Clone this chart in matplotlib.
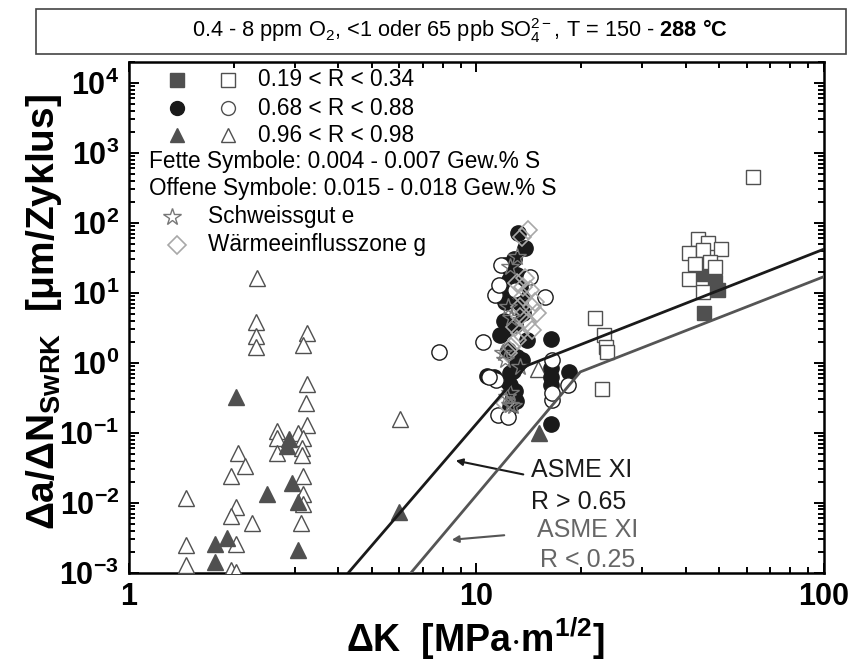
import matplotlib
matplotlib.use("Agg")
import matplotlib.pyplot as plt
from matplotlib.patches import Rectangle

plt.rcParams['font.family'] = ['Liberation Sans', 'DejaVu Sans']
plt.rcParams['mathtext.fontset'] = 'custom'
plt.rcParams['mathtext.rm'] = 'Liberation Sans'
plt.rcParams['mathtext.it'] = 'Liberation Sans:italic'
plt.rcParams['mathtext.bf'] = 'Liberation Sans:bold'

# Data (Delta K in MPa m^1/2, da/dN in um/cycle)
tri_open_K = [2.33, 2.32, 2.32, 2.32, 3.26, 3.17, 3.25, 3.24, 3.26, 2.66, 2.66, 3.07,
              3.17, 3.14, 3.14, 2.66, 2.06, 2.15, 1.96, 3.16, 3.16, 3.17, 2.03, 1.97,
              2.26, 3.13, 1.46, 1.46, 1.46, 2.03, 1.97, 2.03, 6.03, 15.0]
tri_open_y = [16.1, 3.85, 2.40, 1.66, 2.68, 1.79, 0.497, 0.263, 0.129, 0.106, 0.083, 0.098,
              0.083, 0.060, 0.048, 0.051, 0.051, 0.034, 0.024, 0.024, 0.0133, 0.0096, 0.0088, 0.0065,
              0.0052, 0.0052, 0.0116, 0.0025, 0.0013, 0.0026, 0.0011, 0.00102, 0.155, 0.805]
tri_fill_K = [2.03, 2.89, 2.84, 2.94, 2.49, 3.07, 1.77, 1.91, 1.77, 3.07, 6.0, 15.1]
tri_fill_y = [0.327, 0.081, 0.065, 0.019, 0.0133, 0.0103, 0.0026, 0.0031, 0.00144, 0.0021, 0.0074, 0.098]

circ_fill_K = [13.2, 13.8, 12.1, 13.05, 11.9, 12.1, 13.35, 13.6, 11.7, 13.95, 16.4, 10.7,
               12.5, 13.5, 12.5, 12.76, 12.5, 16.4, 16.4, 16.4, 18.5, 16.4,
               12.8, 12.4, 13.3, 12.9, 12.3, 13.0, 12.2, 12.9, 11.2, 12.0, 13.1,
               12.6, 13.4, 12.2, 12.7, 13.0]
circ_fill_y = [70.6, 43, 24.9, 17.9, 9.8, 7.4, 7.1, 5.1, 2.5, 2.1, 2.18, 0.646,
               0.706, 1.09, 0.48, 0.327, 0.23, 0.83, 0.63, 0.48, 0.73, 0.133,
               30, 15, 12, 3.5, 1.5, 0.9, 0.55, 0.4, 0.62, 4.0, 1.2,
               20, 9.0, 3.0, 0.75, 0.28]
circ_open_K = [11.8, 14.25, 11.3, 15.7, 10.46, 7.8, 11.4, 16.5, 16.5, 18.3, 11.55, 12.35, 16.5, 10.85,
               12.9, 11.6]
circ_open_y = [24.9, 16.9, 9.3, 8.8, 2.0, 1.41, 0.567, 1.09, 0.293, 0.48, 0.179, 0.17, 0.37, 0.62,
               11.0, 13.0]

diam_K = [14.1, 13.5, 13.8, 14.25, 14.7, 14.4, 14.9, 13.35, 13.95, 12.9, 14.4, 13.35,
          13.05, 12.6, 12.35, 13.6, 13.05, 13.6, 13.35, 12.1]
diam_y = [78.7, 63, 16.1, 10.9, 7.4, 6.3, 5.1, 4.5, 3.66, 3.27, 2.93, 2.63,
          2.1, 1.69, 1.36, 12.2, 13.6, 8.8, 6.3, 0.263]
star_K = [13.05, 12.5, 12.35, 12.6, 12.1, 13.35, 12.2, 12.76, 11.9, 12.5, 12.5]
star_y = [32.7, 23.5, 6.3, 4.3, 1.09, 0.877, 0.327, 0.237, 1.36, 0.37, 0.25]

sq_open_K = [62.6, 43.5, 46.5, 41, 45, 50.4, 42.4, 47, 48.6, 41, 45, 21.9, 23.3, 23.6, 23.8, 22.9]
sq_open_y = [454, 57.9, 51.8, 37.3, 40.7, 42, 25.5, 27.7, 23.5, 15.5, 10.3, 4.4, 2.49, 1.69, 1.44, 0.417]
sq_fill_K = [44.2, 48.6, 49.6, 45.2]
sq_fill_y = [18.5, 14.4, 11, 5.2]

# ASME XI reference curves (corner points)
asme_hi_K = [4.28, 13.9, 100]
asme_hi_y = [1e-3, 0.9, 42]
asme_lo_K = [6.48, 19.9, 100]
asme_lo_y = [1e-3, 0.74, 17]

fig = plt.figure(figsize=(8.54, 6.68), dpi=100)
ax = fig.add_axes([129 / 854, 1 - 572.7 / 668, 695 / 854, 511 / 668])
ax.set_xscale('log')
ax.set_yscale('log')
ax.set_xlim(1, 100)
ax.set_ylim(1e-3, 2e4)

dk = '#1a1a1a'
dg = '#505050'
lg = '#a8a8a8'

ax.plot(tri_open_K, tri_open_y, '^', ms=11, mfc='white', mec=dg, mew=1.0, ls='none', zorder=3)
ax.plot(tri_fill_K, tri_fill_y, '^', ms=11, mfc=dg, mec=dg, ls='none', zorder=3)
ax.plot(sq_fill_K, sq_fill_y, 's', ms=10, mfc=dg, mec=dg, ls='none', zorder=3)
ax.plot(sq_open_K, sq_open_y, 's', ms=10, mfc='white', mec=dg, mew=1.0, ls='none', zorder=3)
ax.plot(circ_fill_K, circ_fill_y, 'o', ms=11, mfc=dk, mec=dk, ls='none', zorder=3)
ax.plot(circ_open_K, circ_open_y, 'o', ms=11, mfc='white', mec=dk, mew=1.0, ls='none', zorder=3)
ax.plot(diam_K, diam_y, 'D', ms=9, mfc='none', mec=lg, mew=1.2, ls='none', zorder=4)
ax.plot(star_K, star_y, '*', ms=13, mfc='none', mec='#777777', mew=1.0, ls='none', zorder=4)

ax.plot(asme_hi_K, asme_hi_y, '-', color=dk, lw=2, zorder=5)
ax.plot(asme_lo_K, asme_lo_y, '-', color='#555555', lw=2, zorder=5)

# Legend built by hand
def ax_x(px):
    return (px - 129) / 695

def ax_y(py):
    return (572.7 - py) / 511

fs_leg = 16.3
rows = [('s', dg, '0.19 < R < 0.34', 80), ('o', dk, '0.68 < R < 0.88', 108.3),
        ('^', dg, '0.96 < R < 0.98', 135)]
for m, c, lab, py in rows:
    ax.plot(ax_x(176.7), ax_y(py), m, ms=10, mfc=c, mec=c, transform=ax.transAxes, clip_on=False)
    ax.plot(ax_x(228.3), ax_y(py), m, ms=10, mfc='white', mec=dg, mew=1.0,
            transform=ax.transAxes, clip_on=False)
    ax.text(ax_x(258), ax_y(py), lab, fontsize=fs_leg, va='center', ha='left', transform=ax.transAxes)
ax.text(ax_x(149), ax_y(161.7), 'Fette Symbole: 0.004 - 0.007 Gew.% S', fontsize=fs_leg,
        va='center', ha='left', transform=ax.transAxes)
ax.text(ax_x(149), ax_y(188.3), 'Offene Symbole: 0.015 - 0.018 Gew.% S', fontsize=fs_leg,
        va='center', ha='left', transform=ax.transAxes)
ax.plot(ax_x(171.7), ax_y(216.7), '*', ms=13, mfc='none', mec='#777777', mew=1.0,
        transform=ax.transAxes, clip_on=False)
ax.text(ax_x(208), ax_y(216.7), 'Schweissgut e', fontsize=fs_leg, va='center', ha='left',
        transform=ax.transAxes)
ax.plot(ax_x(176.7), ax_y(245), 'D', ms=9, mfc='none', mec=lg, mew=1.2,
        transform=ax.transAxes, clip_on=False)
ax.text(ax_x(208), ax_y(245), 'Wärmeeinflusszone g', fontsize=fs_leg, va='center', ha='left',
        transform=ax.transAxes)

# ASME annotations
fs_ann = 18
ax.annotate('', xy=(ax_x(453), ax_y(460)), xytext=(ax_x(526), ax_y(475)),
            xycoords='axes fraction', textcoords='axes fraction',
            arrowprops=dict(arrowstyle='-|>', color=dk, lw=1.5, mutation_scale=10))
ax.text(ax_x(531), ax_y(470), 'ASME XI', fontsize=fs_ann, color=dk, va='center', ha='left',
        transform=ax.transAxes)
ax.text(ax_x(531), ax_y(502), 'R > 0.65', fontsize=fs_ann, color=dk, va='center', ha='left',
        transform=ax.transAxes)
ax.annotate('', xy=(ax_x(449), ax_y(540)), xytext=(ax_x(507), ax_y(535)),
            xycoords='axes fraction', textcoords='axes fraction',
            arrowprops=dict(arrowstyle='-|>', color='#555555', lw=1.5, mutation_scale=10))
ax.text(ax_x(537), ax_y(530), 'ASME XI', fontsize=fs_ann, color='#666666', va='center', ha='left',
        transform=ax.transAxes)
ax.text(ax_x(540), ax_y(560), 'R < 0.25', fontsize=fs_ann, color='#666666', va='center', ha='left',
        transform=ax.transAxes)

# Axes styling
for s in ax.spines.values():
    s.set_linewidth(1.8)
ax.tick_params(which='both', direction='in', top=True, right=True, width=1.4)
ax.tick_params(which='major', length=7, pad=7)
ax.tick_params(which='minor', length=4)
ax.set_xticks([1, 10, 100])
ax.set_xticklabels(['1', '10', '100'], fontsize=22, fontweight='bold')
ax.set_yticks([1e-3, 1e-2, 1e-1, 1e0, 1e1, 1e2, 1e3, 1e4])
ax.set_yticklabels([r'$\mathbf{10^{%d}}$' % e for e in range(-3, 5)], fontsize=22)

ax.set_xlabel(r'$\mathbf{\Delta K\ \ [MPa{\cdot}m^{1/2}]}$', fontsize=27)
ax.xaxis.set_label_coords(ax_x(475), ax_y(616))
ax.set_ylabel(r'$\mathbf{\Delta a/\Delta N_{SwRK}\ \ [\mu m/Zyklus]}$', fontsize=28)
ax.yaxis.set_label_coords(ax_x(64), ax_y(312))

# Title box
fig.patches.append(Rectangle((36 / 854, 1 - 54 / 668), 810 / 854, 45 / 668, transform=fig.transFigure,
                             fill=False, edgecolor='#444444', lw=1.2))
fig.text(460 / 854, 1 - 31 / 668,
         r'0.4 - 8 ppm O$_2$, <1 oder 65 ppb SO$_4^{2-}$, T = 150 - $\mathbf{288\ °C}$',
         fontsize=15.7, ha='center', va='center')

fig.savefig('out.png', dpi=100)
